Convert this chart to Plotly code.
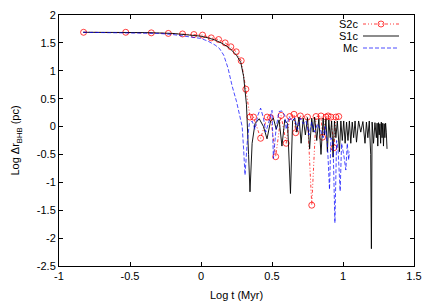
import plotly.graph_objects as go

# ---- data ----
s2c_x = [-0.827, -0.53, -0.35, -0.23, -0.13, -0.05, 0.011, 0.072, 0.124, 0.17, 0.21, 0.248, 0.283,
         0.316, 0.345, 0.37, 0.42, 0.466, 0.49, 0.526, 0.564, 0.60, 0.625, 0.655, 0.667, 0.70,
         0.75, 0.78, 0.81, 0.845, 0.856, 0.88, 0.895, 0.915, 0.936, 0.95, 0.97]
s2c_y = [1.69, 1.69, 1.68, 1.67, 1.66, 1.65, 1.64, 1.59, 1.56, 1.50, 1.43, 1.34, 1.18,
         0.67, 0.17, 0.17, -0.21, 0.17, 0.16, -0.54, 0.20, -0.30, 0.18, 0.22, -0.11, 0.19,
         0.17, -1.41, 0.18, 0.19, -0.19, 0.17, 0.19, 0.17, -0.38, 0.17, 0.18]

s1c_x = [-0.83, -0.6, -0.4, -0.2, -0.1, 0.0, 0.05, 0.1, 0.15, 0.2, 0.25, 0.28, 0.3, 0.32, 0.335, 0.345,
         0.36, 0.38, 0.41, 0.44, 0.465, 0.49, 0.51, 0.53, 0.55, 0.57, 0.59, 0.61, 0.63, 0.645, 0.66,
         0.675, 0.69, 0.705, 0.72, 0.735, 0.75, 0.765, 0.78, 0.79, 0.80, 0.815, 0.83, 0.845, 0.86,
         0.87, 0.88, 0.89, 0.90, 0.91, 0.92, 0.93, 0.94, 0.95, 0.96, 0.975, 0.985, 0.995, 1.005,
         1.015, 1.025, 1.035, 1.045, 1.055, 1.065, 1.075, 1.085, 1.095, 1.11, 1.125, 1.14, 1.155,
         1.165, 1.175, 1.185, 1.195, 1.2, 1.205, 1.215, 1.225, 1.235, 1.24, 1.245, 1.25, 1.255,
         1.26, 1.265, 1.27, 1.275, 1.28, 1.285, 1.29, 1.295, 1.30, 1.305, 1.31]
s1c_y = [1.69, 1.69, 1.685, 1.67, 1.65, 1.62, 1.59, 1.55, 1.49, 1.41, 1.28, 1.15, 0.9, 0.4, -0.5, -1.17,
         -0.3, 0.05, 0.14, 0.0, -0.22, 0.1, 0.15, -0.05, 0.12, -0.35, 0.12, 0.05, -1.2, 0.1, 0.15,
         -0.1, 0.17, -0.3, 0.15, -0.15, 0.16, -0.4, 0.15, -0.1, 0.17, -0.25, 0.14, -0.5, 0.15,
         -0.15, 0.14, -0.45, 0.12, -0.2, 0.1, -0.55, 0.1, -0.2, 0.1, -0.45, 0.1, -0.25, 0.1,
         -0.3, 0.08, -0.25, 0.1, -0.3, 0.08, -0.2, 0.1, -0.28, 0.1, -0.1, 0.09, -0.3,
         0.08, -0.2, 0.1, -0.5, -2.19, 0.08, -0.3, 0.07, -0.2, 0.06, -0.35, 0.07, -0.15,
         0.05, -0.3, 0.08, -0.2, 0.06, -0.35, 0.05, -0.2, 0.06, -0.1, -0.4]

mc_x = [-0.83, -0.5, -0.3, -0.2, -0.1, 0.0, 0.05, 0.1, 0.13, 0.16, 0.19, 0.22, 0.25, 0.27, 0.29,
        0.30, 0.31, 0.325, 0.34, 0.36, 0.38, 0.40, 0.42, 0.44, 0.456, 0.48, 0.50, 0.51, 0.53,
        0.55, 0.57, 0.59, 0.60, 0.62, 0.64, 0.66, 0.68, 0.70, 0.72, 0.74, 0.76, 0.78, 0.80,
        0.82, 0.84, 0.86, 0.875, 0.89, 0.905, 0.915, 0.93, 0.943, 0.955, 0.965, 0.98, 0.99,
        1.005, 1.02, 1.03, 1.04, 1.045]
mc_y = [1.69, 1.685, 1.67, 1.65, 1.62, 1.58, 1.53, 1.46, 1.40, 1.28, 1.05, 0.72, 0.45, 0.25, 0.0,
        -0.4, -0.87, -0.3, 0.05, 0.1, -0.05, 0.2, 0.33, 0.15, -0.1, 0.1, 0.29, -0.57, 0.0,
        0.27, 0.28, 0.2, -0.05, 0.18, 0.1, 0.15, -0.05, 0.15, 0.05, 0.1, -0.15, 0.08, -0.1,
        0.05, -0.05, -0.2, 0.0, -0.3, -1.13, -0.2, -0.3, -1.73, -0.25, -0.4, -1.16, -0.3,
        -0.5, -0.78, -0.3, -0.6, -0.45]

x_ticks = [-1, -0.5, 0, 0.5, 1, 1.5]
x_labels = ["-1", "-0.5", "0", "0.5", "1", "1.5"]
y_ticks = [-2.5, -2, -1.5, -1, -0.5, 0, 0.5, 1, 1.5, 2]
y_labels = ["-2.5", "-2", "-1.5", "-1", "-0.5", "0", "0.5", "1", "1.5", "2"]

RED = "rgba(255,0,0,0.75)"
BLACK = "rgba(0,0,0,0.9)"
BLUE = "rgba(0,0,255,0.7)"
FONT = "Liberation Sans, Arial, sans-serif"

fig = go.Figure()
fig.add_trace(go.Scatter(x=s2c_x, y=s2c_y, mode="lines+markers", name="S2c",
                         line=dict(color=RED, width=1, dash="3px,2px,1px,2px,1px,2px"),
                         marker=dict(symbol="circle-open", size=6, color=RED, line=dict(width=1))))
fig.add_trace(go.Scatter(x=s1c_x, y=s1c_y, mode="lines", name="S1c",
                         line=dict(color=BLACK, width=1)))
fig.add_trace(go.Scatter(x=mc_x, y=mc_y, mode="lines", name="Mc",
                         line=dict(color=BLUE, width=1, dash="4px,2px")))

L, R, T, B = 59, 22, 15, 39
W, H = 436, 305
pw, ph = W - L - R, H - T - B

def px2paper(px, py):
    return (px - L) / pw, (H - B - py) / ph

# manual legend: text right-aligned, sample on the right
legend_rows = [("S2c", 24, RED, "3px,2px,1px,2px,1px,2px", True),
               ("S1c", 36, BLACK, "solid", False),
               ("Mc", 48, BLUE, "4px,2px", False)]
annotations = []
shapes = []
for name, py, col, dash, mark in legend_rows:
    xa, ya = px2paper(359, py)
    annotations.append(dict(x=xa, y=ya, xref="paper", yref="paper", text=name, showarrow=False,
                            xanchor="right", yanchor="middle", borderpad=0,
                            font=dict(size=11, color="#000", family=FONT)))
    x0, y0 = px2paper(363, py)
    x1, _ = px2paper(399, py)
    shapes.append(dict(type="line", xref="paper", yref="paper", x0=x0, x1=x1, y0=y0, y1=y0,
                       line=dict(color=col, width=1, dash=dash)))
    if mark:
        cx0, cy0 = px2paper(378, py + 3)
        cx1, cy1 = px2paper(384, py - 3)
        shapes.append(dict(type="circle", xref="paper", yref="paper", x0=cx0, x1=cx1, y0=cy0, y1=cy1,
                           line=dict(color=col, width=1)))

fig.update_layout(
    width=W, height=H, autosize=False,
    margin=dict(l=L, r=R, t=T, b=B, pad=0),
    paper_bgcolor="white", plot_bgcolor="white",
    showlegend=False,
    font=dict(family=FONT, size=11, color="#000"),
    annotations=annotations,
    shapes=shapes,
    xaxis=dict(range=[-1, 1.5], tickvals=x_ticks, ticktext=x_labels, ticks="inside", ticklen=4,
               tickcolor="#000", showgrid=False, zeroline=False, showline=True, linecolor="#000",
               linewidth=1, mirror="ticks", automargin=False,
               title=dict(text="Log t (Myr)", standoff=10, font=dict(size=11))),
    yaxis=dict(range=[-2.5, 2], tickvals=y_ticks, ticktext=y_labels, ticks="inside", ticklen=4,
               tickcolor="#000", showgrid=False, zeroline=False, showline=True, linecolor="#000",
               linewidth=1, mirror="ticks", automargin=False,
               title=dict(text="Log Δr<sub>BHB</sub> (pc)", standoff=14, font=dict(size=11))),
)

post = ("document.body.style.margin='0';document.body.style.padding='0';"
        "document.body.style.overflow='hidden';"
        "var gd=document.getElementById('{plot_id}');"
        "Plotly.relayout(gd,{width:%d,height:%d});" % (W, H))
fig.write_html("out.html", post_script=post,
               config={"responsive": False, "displayModeBar": False})
